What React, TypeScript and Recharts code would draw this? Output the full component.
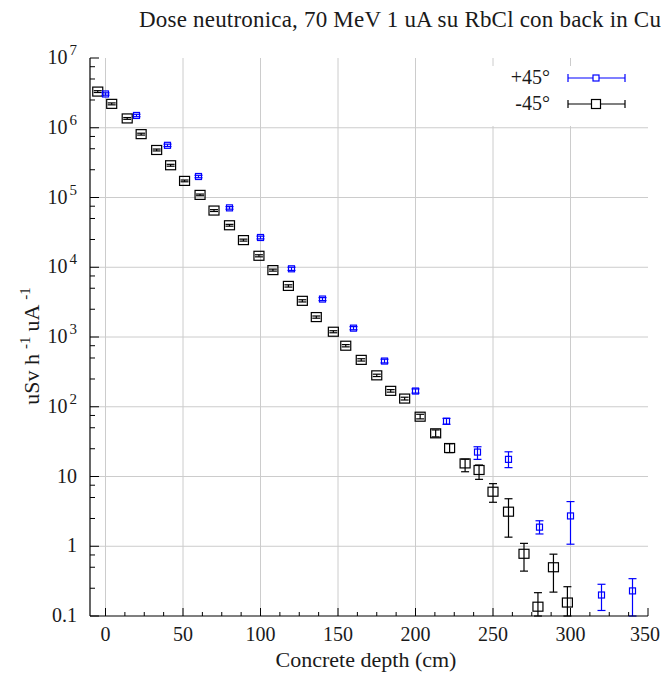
import React from 'react';
import {
  ScatterChart,
  Scatter,
  XAxis,
  YAxis,
  CartesianGrid,
  ErrorBar,
  Legend,
} from 'recharts';

// -45° series (black squares)
const minusDepth = [-5, 4, 14, 23, 33, 42, 51, 61, 70, 80, 89, 99, 108, 118, 127, 136, 147, 155, 165, 175, 184, 193, 203, 213, 222, 232, 241, 250, 260, 270, 279, 289, 298];
const minusDose = [3.3e6, 2.2e6, 1.36e6, 8.1e5, 4.8e5, 2.9e5, 1.73e5, 1.09e5, 6.5e4, 4.0e4, 2.45e4, 1.46e4, 9.1e3, 5.4e3, 3.3e3, 1.93e3, 1.19e3, 750, 470, 282, 169, 131, 72, 41.6, 25.6, 15.4, 12.4, 6.05, 3.13, 0.78, 0.136, 0.5, 0.156];
const minusLow = [3.2e6, 2.13e6, 1.32e6, 7.85e5, 4.65e5, 2.81e5, 1.68e5, 1.06e5, 6.3e4, 3.88e4, 2.37e4, 1.41e4, 8.8e3, 5.2e3, 3.18e3, 1.86e3, 1.15e3, 722, 452, 271, 162, 125, 67, 37, 22, 11.7, 9.1, 4.27, 1.35, 0.44, 0.1, 0.22, 0.1];
const minusHigh = [3.4e6, 2.27e6, 1.4e6, 8.35e5, 4.95e5, 2.99e5, 1.78e5, 1.12e5, 6.7e4, 4.12e4, 2.53e4, 1.51e4, 9.4e3, 5.6e3, 3.42e3, 2.0e3, 1.23e3, 778, 488, 293, 176, 137, 78, 46.5, 29.5, 17.7, 14.6, 7.9, 4.8, 1.1, 0.216, 0.77, 0.263];

// +45° series (blue)
const plusDepth = [0, 20, 40, 60, 80, 100, 120, 140, 160, 180, 200, 220, 240, 260, 280, 300, 320, 340];
const plusDose = [3.05e6, 1.5e6, 5.6e5, 2.0e5, 7.1e4, 2.67e4, 9.5e3, 3.5e3, 1.34e3, 452, 168, 62, 22.4, 17.6, 1.88, 2.72, 0.2, 0.229];
const plusLow = [2.93e6, 1.44e6, 5.38e5, 1.92e5, 6.8e4, 2.55e4, 9.0e3, 3.33e3, 1.27e3, 425, 157, 56, 17.6, 13.4, 1.5, 1.07, 0.12, 0.1];
const plusHigh = [3.17e6, 1.56e6, 5.82e5, 2.08e5, 7.4e4, 2.79e4, 1.0e4, 3.67e3, 1.41e3, 480, 180, 68, 26.7, 22.6, 2.32, 4.37, 0.285, 0.343];

// axes
const xMajorTicks = [0, 50, 100, 150, 200, 250, 300, 350];
const xMinorSteps = [12.5, 25, 37.5];
const xGridValues = [0, 50, 100, 150, 200, 250, 300];
const yMajorTicks = [0.1, 1, 10, 1e2, 1e3, 1e4, 1e5, 1e6, 1e7];
const yTickLabels = ['0.1', '1', '10', '10|2', '10|3', '10|4', '10|5', '10|6', '10|7'];
const yMinorFactors = [2.5, 5, 7.5];
const yGridValues = [1, 10, 1e2, 1e3, 1e4, 1e5, 1e6];

const xTicks = [
  ...xMajorTicks,
  ...xMajorTicks.slice(0, -1).flatMap((m) => xMinorSteps.map((s) => m + s)),
];
const yTicks = [
  ...yMajorTicks,
  ...yMajorTicks.slice(0, -1).flatMap((m) => yMinorFactors.map((f) => m * f)),
];

const toRows = (xs: number[], ys: number[], lo: number[], hi: number[]) =>
  xs.map((x, i) => ({ x, y: ys[i], err: [ys[i] - lo[i], hi[i] - ys[i]] }));

const minusData = toRows(minusDepth, minusDose, minusLow, minusHigh);
const plusData = toRows(plusDepth, plusDose, plusLow, plusHigh);

const FONT = '"Liberation Serif", "Times New Roman", serif';
const TEXT = '#1a1a1a';
const BLUE = '#0000ff';

const BottomTick = ({ x, y, payload }: any) => {
  const major = xMajorTicks.includes(payload.value);
  const last = payload.value === 350;
  return (
    <g>
      <line x1={x} x2={x} y1={y} y2={y - (major ? 8 : 4)} stroke="#000" />
      {major && (
        <text
          x={last ? x + 12 : x}
          y={y + 25}
          textAnchor={last ? 'end' : 'middle'}
          fontSize={20}
          fontFamily={FONT}
          fill={TEXT}
        >
          {payload.value}
        </text>
      )}
    </g>
  );
};

const TopTick = ({ x, y, payload }: any) => {
  const major = xMajorTicks.includes(payload.value);
  return <line x1={x} x2={x} y1={y} y2={y + (major ? 8 : 4)} stroke="#000" />;
};

const LeftTick = ({ x, y, payload }: any) => {
  const idx = yMajorTicks.indexOf(payload.value);
  const major = idx >= 0;
  let label: React.ReactNode = null;
  if (major) {
    const [base, exp] = yTickLabels[idx].split('|');
    label = (
      <text x={x - 13} y={y + 6} textAnchor="end" fontSize={20} fontFamily={FONT} fill={TEXT}>
        {base}
        {exp && (
          <tspan dx={2} dy={-9} fontSize={15}>
            {exp}
          </tspan>
        )}
      </text>
    );
  }
  return (
    <g>
      <line x1={x} x2={x + (major ? 9 : 5)} y1={y} y2={y} stroke="#000" />
      {label}
    </g>
  );
};

const RightTick = ({ x, y, payload }: any) => {
  const major = yMajorTicks.includes(payload.value);
  return <line x1={x} x2={x - (major ? 9 : 5)} y1={y} y2={y} stroke="#000" />;
};

const blackSquare = (p: any) => (
  <rect x={p.cx - 5} y={p.cy - 4.5} width={10} height={9} fill="none" stroke="#000" strokeWidth={1.2} />
);
const blueSquare = (p: any) => (
  <rect x={p.cx - 3} y={p.cy - 3} width={6} height={6} fill="none" stroke={BLUE} strokeWidth={1.2} />
);

const legendRows = [
  { label: '+45°', color: BLUE, box: 6 },
  { label: '-45°', color: '#000', box: 9 },
];

const KeyBox = () => (
  <svg width={160} height={60}>
    {legendRows.map((r, i) => {
      const cy = 12 + i * 26;
      return (
        <g key={r.label}>
          <text x={70} y={cy + 6} textAnchor="end" fontSize={20} fontFamily={FONT} fill={TEXT}>
            {r.label}
          </text>
          <line x1={88} x2={145} y1={cy} y2={cy} stroke={r.color} strokeWidth={1.2} />
          <line x1={88} x2={88} y1={cy - 4} y2={cy + 4} stroke={r.color} strokeWidth={1.2} />
          <line x1={145} x2={145} y1={cy - 4} y2={cy + 4} stroke={r.color} strokeWidth={1.2} />
          <rect x={116 - r.box / 2} y={cy - r.box / 2} width={r.box} height={r.box} fill="#fff" stroke={r.color} strokeWidth={1.2} />
        </g>
      );
    })}
  </svg>
);

export default function App() {
  return (
    <div style={{ position: 'relative', width: 661, height: 673, background: '#fff' }}>
      <style>{'body{margin:0}'}</style>
      <ScatterChart width={661} height={673} margin={{ top: 58, right: 13, bottom: 0, left: 0 }}>
        <CartesianGrid
          xAxisId="b"
          yAxisId="l"
          stroke="#cccccc"
          strokeDasharray=""
          verticalValues={xGridValues}
          horizontalValues={yGridValues}
        />
        <XAxis
          xAxisId="b"
          dataKey="x"
          type="number"
          domain={[-10, 350]}
          allowDataOverflow
          ticks={xTicks}
          interval={0}
          height={57}
          tickSize={0}
          tickMargin={0}
          tick={<BottomTick />}
          axisLine={{ stroke: '#000', strokeWidth: 1.2 }}
        />
        <XAxis
          xAxisId="t"
          orientation="top"
          dataKey="x"
          type="number"
          domain={[-10, 350]}
          allowDataOverflow
          ticks={xTicks}
          interval={0}
          height={0}
          tickSize={0}
          tickMargin={0}
          tick={<TopTick />}
          axisLine={{ stroke: '#000', strokeWidth: 1.2 }}
        />
        <YAxis
          yAxisId="l"
          dataKey="y"
          type="number"
          scale="log"
          domain={[0.1, 1e7]}
          allowDataOverflow
          ticks={yTicks}
          interval={0}
          width={90}
          tickSize={0}
          tickMargin={0}
          tick={<LeftTick />}
          axisLine={{ stroke: '#000', strokeWidth: 1.2 }}
        />
        <YAxis
          yAxisId="r"
          orientation="right"
          dataKey="y"
          type="number"
          scale="log"
          domain={[0.1, 1e7]}
          allowDataOverflow
          ticks={yTicks}
          interval={0}
          width={0}
          tickSize={0}
          tickMargin={0}
          tick={<RightTick />}
          axisLine={{ stroke: '#000', strokeWidth: 1.2 }}
        />
        <Legend
          layout="horizontal"
          verticalAlign="middle"
          align="center"
          content={() => <KeyBox />}
          wrapperStyle={{ position: 'absolute', top: 66, left: 480, width: 160, height: 60, background: '#fff' }}
        />
        <Scatter
          name="-45°"
          data={minusData}
          xAxisId="b"
          yAxisId="l"
          shape={blackSquare}
          isAnimationActive={false}
        >
          <ErrorBar dataKey="err" direction="y" width={4} stroke="#000" strokeWidth={1.2} />
        </Scatter>
        <Scatter
          name="+45°"
          data={plusData}
          xAxisId="b"
          yAxisId="l"
          shape={blueSquare}
          isAnimationActive={false}
        >
          <ErrorBar dataKey="err" direction="y" width={4} stroke={BLUE} strokeWidth={1.2} />
        </Scatter>
      </ScatterChart>
      <svg
        width={661}
        height={673}
        style={{ position: 'absolute', left: 0, top: 0, pointerEvents: 'none' }}
      >
        <text x={139} y={27} fontSize={23} letterSpacing={0.2} fontFamily={FONT} fill={TEXT}>
          Dose neutronica, 70 MeV 1 uA su RbCl con back in Cu
        </text>
        <text x={366} y={667} textAnchor="middle" fontSize={22} fontFamily={FONT} fill={TEXT}>
          Concrete depth (cm)
        </text>
        <text
          transform="translate(39, 346) rotate(-90)"
          textAnchor="middle"
          fontSize={22}
          fontFamily={FONT}
          fill={TEXT}
        >
          uSv h
          <tspan dx={5} dy={-9} fontSize={15}>-1</tspan>
          <tspan dx={5} dy={9}>uA</tspan>
          <tspan dx={5} dy={-9} fontSize={15}>-1</tspan>
        </text>
      </svg>
    </div>
  );
}
